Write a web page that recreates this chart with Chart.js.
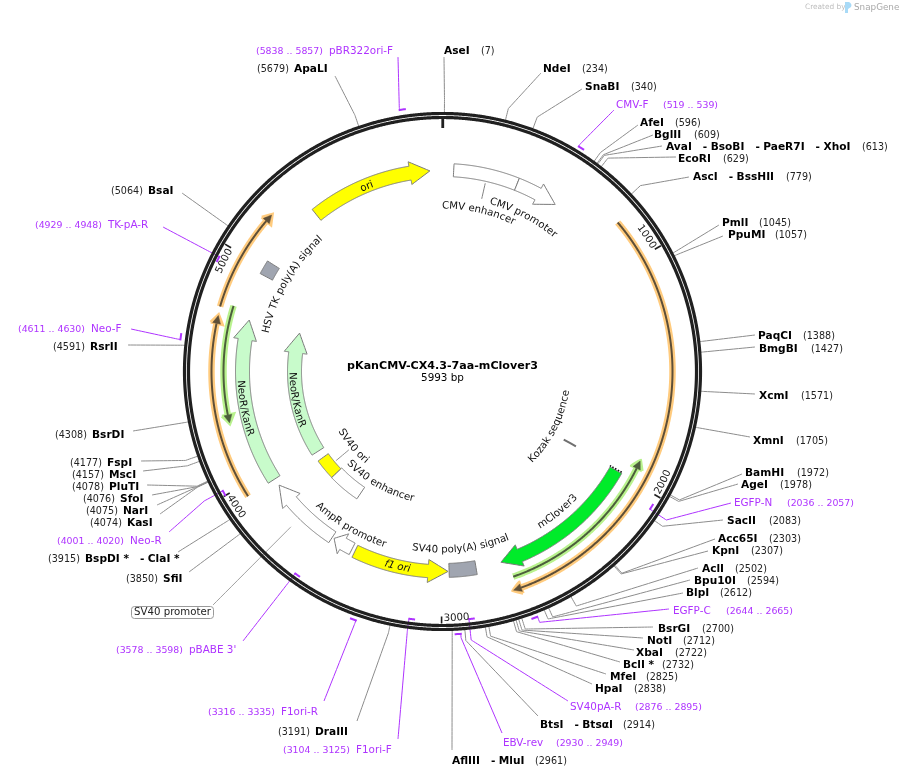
<!DOCTYPE html>
<html>
<head>
<meta charset="utf-8">
<title>pKanCMV-CX4.3-7aa-mClover3</title>
<style>
  html, body { margin: 0; padding: 0; background: #fff; }
  #wrap { width: 902px; height: 777px; }
  canvas { display: block; }
</style>
<script src="https://cdn.jsdelivr.net/npm/chart.js@4"></script>
</head>
<body>
<div id="wrap"><canvas id="map" width="902" height="777"></canvas></div>
<script>
// ─── Data ────────────────────────────────────────────────
const plasmidName = "pKanCMV-CX4.3-7aa-mClover3";
const plasmidLength = 5993;
const tickValues = [1000, 2000, 3000, 4000, 5000];

const siteNames = ["AseI", "NdeI", "SnaBI", "AfeI", "BglII", "AvaI - BsoBI - PaeR7I - XhoI", "EcoRI", "AscI - BssHII",
  "PmlI", "PpuMI", "PaqCI", "BmgBI", "XcmI", "XmnI", "BamHI", "AgeI", "SacII", "Acc65I", "KpnI", "AclI", "Bpu10I",
  "BlpI", "BsrGI", "NotI", "XbaI", "BclI *", "MfeI", "HpaI", "BtsI - BtsαI", "AflIII - MluI", "DraIII", "SfiI",
  "BspDI * - ClaI *", "KasI", "NarI", "SfoI", "PluTI", "MscI", "FspI", "BsrDI", "RsrII", "BsaI", "ApaLI"];
const sitePositions = [7, 234, 340, 596, 609, 613, 629, 779,
  1045, 1057, 1388, 1427, 1571, 1705, 1972, 1978, 2083, 2303, 2307, 2502, 2594,
  2612, 2700, 2712, 2722, 2732, 2825, 2838, 2914, 2961, 3191, 3850,
  3915, 4074, 4075, 4076, 4078, 4157, 4177, 4308, 4591, 5064, 5679];

const primerNames = ["CMV-F", "EGFP-N", "EGFP-C", "SV40pA-R", "EBV-rev", "F1ori-F", "F1ori-R", "pBABE 3'", "Neo-R", "Neo-F", "TK-pA-R", "pBR322ori-F"];
const primerStarts = [519, 2036, 2644, 2876, 2930, 3104, 3316, 3578, 4001, 4611, 4929, 5838];
const primerEnds = [539, 2057, 2665, 2895, 2949, 3125, 3335, 3598, 4020, 4630, 4948, 5857];

const featureNames = ["ori", "CMV enhancer", "CMV promoter", "mClover3", "SV40 poly(A) signal", "f1 ori", "AmpR promoter",
  "SV40 promoter", "SV40 enhancer", "SV40 ori", "NeoR/KanR", "NeoR/KanR", "HSV TK poly(A) signal", "Kozak sequence"];
const featureStarts = [5347, 53, 361, 1992, 2835, 2970, 3446, 3556, 3561, 3767, 3951, 3951, 4965, 1980];
const featureEnds = [5933, 361, 566, 2713, 2965, 3429, 3546, 3915, 3767, 3900, 4745, 4743, 5032, 1992];
const featureStrands = [1, 0, 1, 1, 0, -1, 1, 1, 0, 0, 1, 1, 0, 0];

// thin translated tracks with a halo (no labels)
const orfStarts = [826, 1904, 3951, 4269, 4766];
const orfEnds = [2697, 2680, 4728, 4785, 5202];
const orfStrands = [1, -1, 1, -1, 1];

// ─── Layout ──────────────────────────────────────────────
const W = 902, H = 777, CX = 442.5, CY = 371.5;
const RING_OUT = 258, RING_IN = 254;

// [name x, y, position x, leader end x, leader end y, elbow radius]
const siteLayout = [
  [444, 50, 481, 444, 57, 272], [543, 68, 582, 541, 73, 271], [585, 86, 631, 582, 89, 271.5],
  [640, 122, 675, 638, 125, 270], [654, 134, 694, 653, 135, 270], [666, 146, 862, 662, 146, 270],
  [678, 158, 723, 676, 157, 270], [693, 176, 786, 689, 177, 271.5],
  [722, 222, 759, 719, 225, 261], [728, 234, 775, 723, 236, 261], [758, 335, 803, 755, 335, 261],
  [759, 348, 811, 755, 347, 261], [759, 395, 801, 755, 394, 261], [753, 440, 796, 750, 437, 261],
  [745, 472, 797, 742, 474, 269.5], [741, 484, 780, 738, 484, 269.5], [727, 520, 769, 723, 520, 269],
  [718, 538, 769, 715, 539, 270], [712, 550, 751, 708, 551, 270], [702, 568, 735, 698, 568, 270],
  [694, 580, 747, 690, 580, 269], [686, 592, 720, 683, 593, 269], [658, 628, 702, 653, 627, 270.5],
  [647, 640, 683, 643, 638, 270.5], [636, 652, 675, 634, 650, 270.5], [623, 664, 662, 620, 662, 270.5],
  [610, 676, 646, 606, 674, 269], [595, 688, 634, 592, 684, 269], [540, 724, 623, 538, 716, 270],
  [452, 760, 535, 452, 750, 261], [315, 731, 278, 357, 721, 267], [163, 578, 126, 189, 572, 261],
  [85, 558, 48, 178, 552, 261], [127, 522, 90, 160, 514, 271], [123, 510, 86, 157, 505, 271],
  [120, 498, 83, 152, 495, 271], [109, 486, 72, 147, 485, 271], [109, 474, 72, 143, 471, 272],
  [107, 462, 70, 141, 461, 272], [92, 434, 55, 133, 431, 261], [90, 346, 53, 128, 345, 261],
  [148, 190, 111, 182, 193, 261], [294, 68, 257, 335, 76, 271]
];

// [name x, y, range x, leader end x, leader end y, elbow radius, mark radius]
const primerLayout = [
  [616, 104, 663, 614, 110, 265.6, 263], [734, 502, 787, 731, 503, 268.6, 249],
  [673, 610, 726, 669, 609, 269, 263], [570, 706, 635, 568, 701, 270, 249],
  [503, 742, 556, 502, 733, 267, 263], [356, 749, 283, 398, 739, 262, 249.5],
  [281, 711, 208, 324, 701, 267, 263.5], [189, 649, 116, 243, 641, 262, 250],
  [130, 540, 57, 169, 532, 271, 250], [91, 328, 18, 131, 329, 267, 264],
  [108, 224, 35, 163, 227, 262, 251], [329, 50, 256, 398, 57, 267, 265]
];

// [track radius, half width, label bp, label baseline radius, fill colour]
const featureLayout = [
  [201, 7, 5622, 197, "#FFFF00"], [201.5, 6.5, 213, 163, "#FFFFFF"], [201.5, 6.5, 461, 174, "#FFFFFF"],
  [199.5, 6.7, 2341, 185, "#00EB2A"], [199, 7, 2897, 181, "#A0A5B0"], [200, 6.7, 3213, 203, "#FFFF00"],
  [199, 6.5, 3508, 185, "#FFFFFF"], [199, 6.5, null, 0, "#FFFFFF"], [146.5, 7, 3485, 133, "#FFFFFF"],
  [147, 6.3, 3830, 120, "#FFFF00"], [148, 7, 4312, 153, "#C8FBCB"], [200, 7, 4320, 205, "#C8FBCB"],
  [200, 7, 4995, 178, "#A0A5B0"], [146, 7, 1950, 128, "#808080"]
];

const orfRadii = [230, 217, 231, 219, 231.7];
const orfHalos = ["#FFCB7E", "#B9F28E", "#FFCB7E", "#B9F28E", "#FFCB7E"];
const orfLines = ["#5E4F38", "#4C5E3C", "#5E4F38", "#4C5E3C", "#5E4F38"];

const PURPLE = "#AE33FF";
const LEADER = "#8C8C8C";
const FONT = '"DejaVu Sans"';

// ─── Geometry helpers ────────────────────────────────────
function polar(bp, r) {
  const a = bp / plasmidLength * Math.PI * 2;
  return { x: r * Math.sin(a), y: r * Math.cos(a) };
}

function fromPixel(px, py) {
  return { x: px - CX, y: CY - py };
}

function arc(b0, b1, r) {
  const n = Math.max(2, Math.ceil(Math.abs(b1 - b0) / 6));
  const pts = [];
  for (let i = 0; i <= n; i++) pts.push(polar(b0 + (b1 - b0) * i / n, r));
  return pts;
}

function pxToBp(px, r) {
  return px / (2 * Math.PI * r) * plasmidLength;
}

function arrowShape(tail, tip, r, hw, headPx, barb) {
  const dir = tip > tail ? 1 : -1;
  const len = Math.abs(tip - tail);
  const head = Math.min(pxToBp(headPx, r), len / 2);
  const neck = tip - dir * head;
  return [
    ...arc(tail, neck, r + hw),
    polar(neck, r + barb),
    polar(tip, r),
    polar(neck, r - barb),
    ...arc(neck, tail, r - hw),
    polar(tail, r + hw)
  ];
}

function boxShape(b0, b1, r, hw) {
  return [...arc(b0, b1, r + hw), ...arc(b1, b0, r - hw), polar(b0, r + hw)];
}

// ─── Datasets ────────────────────────────────────────────
const datasets = [];
function add(data, color, width, fillColor, extra) {
  datasets.push(Object.assign({
    data,
    showLine: true,
    pointRadius: 0,
    borderColor: color,
    borderWidth: width,
    backgroundColor: fillColor || "transparent",
    fill: fillColor ? "shape" : false,
    order: -datasets.length,
    clip: false,
    tension: 0.001, // a zero tension makes Chart.js snap lines to whole pixels
    borderJoinStyle: "miter"
  }, extra || {}));
}

// leaders go under the ring
sitePositions.forEach((bp, i) => {
  const l = siteLayout[i];
  add([polar(bp, 259), polar(bp, l[5]), fromPixel(l[3], l[4])], LEADER, 1);
});
primerStarts.forEach((s, i) => {
  const l = primerLayout[i];
  const anchor = l[6] > RING_OUT ? s : primerEnds[i];
  add([polar(anchor, l[6]), polar(anchor, l[5]), fromPixel(l[3], l[4])], PURPLE, 1);
});
add([polar(3734, 217), fromPixel(213, 605)], "#A0A0A0", 1);
add([polar(213, 193), polar(213, 177)], "#808080", 1);
add([polar(3830, 139), polar(3830, 122)], "#909090", 1);

// backbone
add(arc(0, plasmidLength, RING_OUT), "#202020", 3.2);
add(arc(0, plasmidLength, RING_IN), "#202020", 3.2);
add([polar(1, 255), polar(1, 243.5)], "#202020", 2.8);
tickValues.forEach(v => add([polar(v, 252), polar(v, 245)], "#202020", 1.6));

// primer marks
primerStarts.forEach((s, i) => {
  const r = primerLayout[i][6];
  const mid = (s + primerEnds[i]) / 2;
  add(arc(mid - 13, mid + 13, r), PURPLE, 2);
});

// halo tracks
orfStarts.forEach((s, i) => {
  const e = orfEnds[i], r = orfRadii[i];
  const tail = orfStrands[i] > 0 ? s : e;
  const tip = orfStrands[i] > 0 ? e : s;
  const dir = tip > tail ? 1 : -1;
  const neck = tip - dir * pxToBp(8, r);
  add(arc(tail, neck, r), orfHalos[i], 6.5);
  add([polar(neck, r + 6), polar(tip + dir * pxToBp(1, r), r), polar(neck, r - 6), polar(neck, r + 6)], orfHalos[i], 3, orfHalos[i]);
  add(arc(tail, neck, r), orfLines[i], 2);
  add([polar(neck, r + 4), polar(tip, r), polar(neck, r - 4), polar(neck, r + 4)], orfLines[i], 0.5, orfLines[i]);
});

// features
featureNames.forEach((name, i) => {
  const [r, hw, , , fill] = featureLayout[i];
  const s = featureStarts[i], e = featureEnds[i], strand = featureStrands[i];
  if (name === "Kozak sequence") {
    add([polar(1986, r - hw), polar(1986, r + hw)], "#707070", 2);
    return;
  }
  const pts = strand === 0 ? boxShape(s, e, r, hw)
    : strand > 0 ? arrowShape(s, e, r, hw, 20, 11.5)
    : arrowShape(e, s, r, hw, 20, 11.5);
  add(pts, "#7A7A7A", 1, fill);
});
// dotted open end of mClover3
add([polar(1987, 192), polar(1987, 207)], "#111111", 1.6, null, { borderDash: [1.5, 1.5] });

// ─── Text drawing ────────────────────────────────────────
function arcText(ctx, scales, str, bp, r, font, color) {
  ctx.font = font;
  ctx.fillStyle = color;
  ctx.textAlign = "center";
  ctx.textBaseline = "alphabetic";
  const deg = ((bp / plasmidLength * 360) % 360 + 360) % 360;
  const lower = deg > 90 && deg < 270;
  const widths = [...str].map(c => ctx.measureText(c).width);
  const total = widths.reduce((a, b) => a + b, 0);
  let run = -total / 2;
  [...str].forEach((c, i) => {
    const off = run + widths[i] / 2;
    run += widths[i];
    const b = bp + (lower ? -1 : 1) * pxToBp(off, r);
    const p = polar(b, r);
    const a = b / plasmidLength * Math.PI * 2;
    ctx.save();
    ctx.translate(scales.x.getPixelForValue(p.x), scales.y.getPixelForValue(p.y));
    ctx.rotate(lower ? a - Math.PI : a);
    ctx.fillText(c, 0, 0);
    ctx.restore();
  });
}

function drawLabel(ctx, name, nameX, labelY, rangeText, rangeX, nameFont, rangeFont, nameColor, rangeColor) {
  const y = labelY + 1;
  ctx.textAlign = "left";
  ctx.textBaseline = "middle";
  ctx.font = nameFont;
  ctx.fillStyle = nameColor;
  let x = nameX;
  name.split(" - ").forEach((part, i) => {
    if (i > 0) {
      x += 11;
      ctx.fillText("-", x, y);
      x += ctx.measureText("-").width + 3.5;
    }
    ctx.fillText(part, x, y);
    x += ctx.measureText(part).width;
  });
  ctx.font = rangeFont;
  ctx.fillStyle = rangeColor;
  ctx.fillText(rangeText, rangeX, y + 0.5);
}

const labelPlugin = {
  id: "labels",
  afterDatasetsDraw(chart) {
    const ctx = chart.ctx, scales = chart.scales;
    ctx.save();

    siteNames.forEach((name, i) => {
      const l = siteLayout[i];
      drawLabel(ctx, name, l[0], l[1], "(" + sitePositions[i] + ")", l[2], "bold 10.6px " + FONT, "9.6px " + FONT, "#000", "#222");
    });
    primerNames.forEach((name, i) => {
      const l = primerLayout[i];
      drawLabel(ctx, name, l[0], l[1], "(" + primerStarts[i] + " .. " + primerEnds[i] + ")", l[2], "10.4px " + FONT, "9.4px " + FONT, PURPLE, PURPLE);
    });

    featureNames.forEach((name, i) => {
      const l = featureLayout[i];
      if (l[2] === null) return;
      const font = (name === "f1 ori" ? "italic " : "") + "10.2px " + FONT;
      arcText(ctx, scales, name, l[2], l[3], font, "#111");
    });

    // tick numbers sit counter-clockwise of their tick
    tickValues.forEach(v => {
      const deg = v / plasmidLength * 360;
      const lower = deg > 90 && deg < 270;
      arcText(ctx, scales, String(v), v - pxToBp(15, 246), lower ? 249.5 : 242, "10.2px " + FONT, "#222");
    });

    // centre title
    ctx.textAlign = "center";
    ctx.textBaseline = "middle";
    ctx.fillStyle = "#000";
    ctx.font = "bold 11.1px " + FONT;
    ctx.fillText(plasmidName, 442.5, 366.5);
    ctx.font = "10.4px " + FONT;
    ctx.fillText(plasmidLength + " bp", 442.5, 378.5);

    // boxed label
    ctx.beginPath();
    ctx.roundRect(131.5, 606.5, 82, 12, 3);
    ctx.strokeStyle = "#9A9A9A";
    ctx.lineWidth = 1;
    ctx.fillStyle = "#fff";
    ctx.fill();
    ctx.stroke();
    ctx.fillStyle = "#222";
    ctx.font = "10.2px " + FONT;
    ctx.fillText("SV40 promoter", 172.5, 612.8);

    // watermark
    ctx.textAlign = "left";
    ctx.fillStyle = "#BDBDBD";
    ctx.font = "7.4px " + FONT;
    ctx.fillText("Created by", 805, 7.5);
    ctx.fillStyle = "#A9A9A9";
    ctx.font = "8.8px " + FONT;
    ctx.fillText("SnapGene", 854, 8);
    ctx.fillStyle = "#A8DAF7";
    ctx.beginPath();
    ctx.moveTo(845, 2);
    ctx.lineTo(849, 2);
    ctx.quadraticCurveTo(852.5, 4, 851, 7);
    ctx.lineTo(848, 9);
    ctx.lineTo(848, 13);
    ctx.lineTo(845, 13);
    ctx.closePath();
    ctx.fill();

    ctx.restore();
  }
};

// ─── Chart ───────────────────────────────────────────────
new Chart(document.getElementById("map").getContext("2d"), {
  type: "scatter",
  data: { datasets },
  options: {
    responsive: false,
    animation: false,
    devicePixelRatio: 1,
    layout: { padding: 0 },
    scales: {
      x: { type: "linear", min: -CX, max: W - CX, display: false },
      y: { type: "linear", min: CY - H, max: CY, display: false }
    },
    plugins: { legend: { display: false }, tooltip: { enabled: false } }
  },
  plugins: [labelPlugin]
});
</script>
</body>
</html>
